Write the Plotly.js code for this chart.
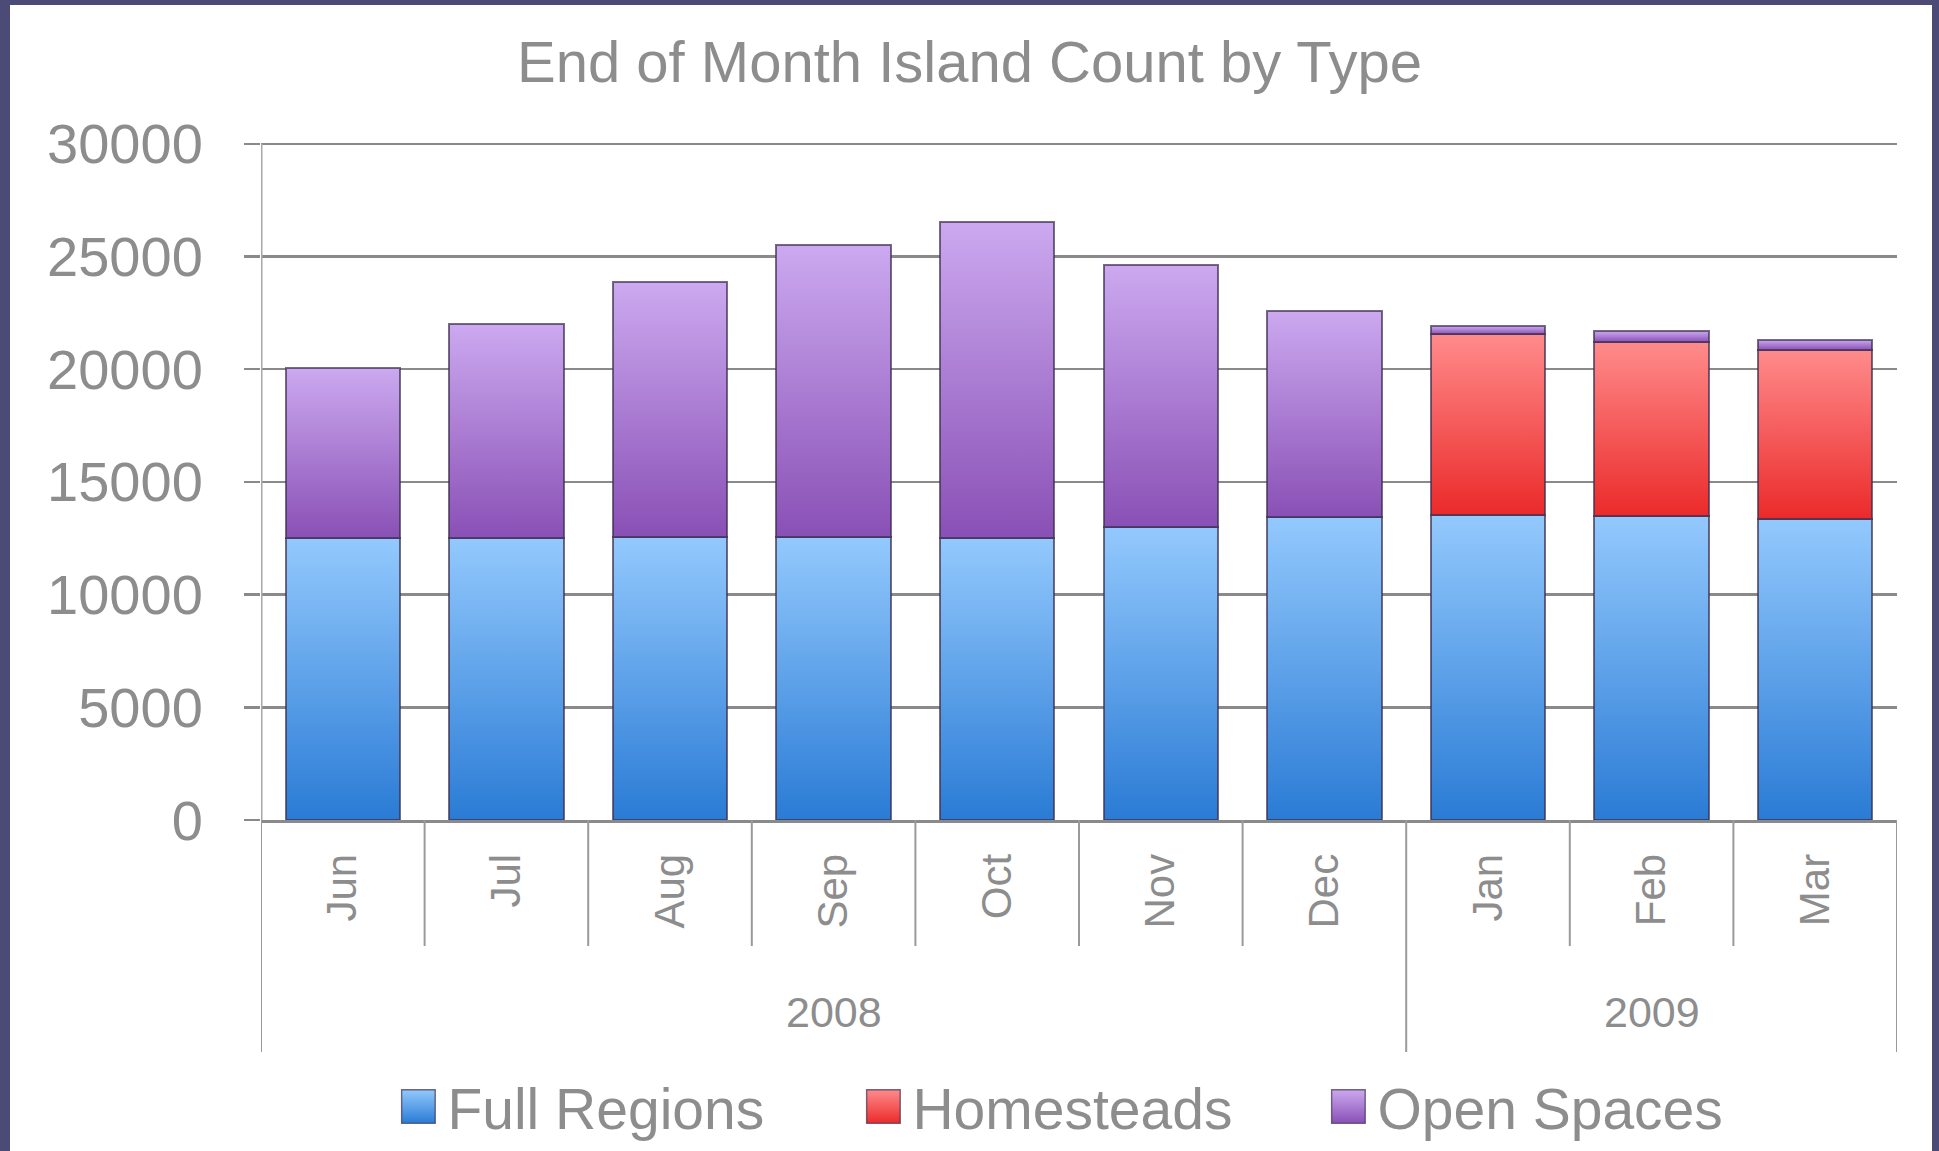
<!DOCTYPE html>
<html><head><meta charset="utf-8">
<script src="https://cdn.plot.ly/plotly-3.0.1.min.js"></script>
<style>
html,body{margin:0;padding:0;width:1939px;height:1151px;overflow:hidden;background:#4c4b77;}
#panel{position:absolute;left:10px;top:5px;width:1922px;height:1146px;background:#ffffff;}
#chart{position:absolute;left:0;top:0;width:1939px;height:1151px;}
</style></head><body>
<div id="panel"></div><div id="chart"></div>
<script>
const months = ['Jun','Jul','Aug','Sep','Oct','Nov','Dec','Jan','Feb','Mar'];
const years = ['2008','2008','2008','2008','2008','2008','2008','2009','2009','2009'];
const fullRegions = [12500, 12500, 12550, 12550, 12500, 13000, 13450, 13550, 13475, 13350];
const homesteads  = [null, null, null, null, null, null, null, 8000, 7725, 7500];
const openSpaces  = [7550, 9500, 11300, 12950, 14050, 11600, 9150, 350, 500, 450];
const seriesNames = ['Full Regions', 'Homesteads', 'Open Spaces'];
const seriesValues = [fullRegions, homesteads, openSpaces];
const yTicks = [0, 5000, 10000, 15000, 20000, 25000, 30000];
const titleText = 'End of Month Island Count by Type';

const gradStops = [['#93c9fd', '#2a7bd5'], ['#ff8b8b', '#eb2a2a'], ['#cca9f0', '#8950b5']];
const FONT = 'Liberation Sans, Arial, sans-serif';
const GRAY = '#8d8d8d';

const idx = months.map((m, i) => i);
const data = seriesNames.map((name, s) => ({
  type: 'bar', name: name, x: idx, y: seriesValues[s], width: 0.7,
  marker: {color: gradStops[s][1], line: {color: 'rgba(60,45,80,0.7)', width: 2}}
}));

// plot area: y=0 at 820px, y=30000 at 144px
const plotBottom = 820, yTopPx = 144, yMax = 30300;
const yTopTick = yTicks[yTicks.length - 1];
const pxPerUnit = (plotBottom - yTopPx) / yTopTick;
const marginTop = Math.round(plotBottom - yMax * pxPerUnit);
const plotH = plotBottom - marginTop;

const shapes = [];
const annotations = [];
const n = months.length;
// y axis line from 0 to top tick
shapes.push({type: 'line', xref: 'x', yref: 'y', x0: -0.5, x1: -0.5, y0: 0, y1: yTopTick,
  line: {color: '#a8a8a8', width: 3}});
// dividers under x axis
for (let i = 0; i <= n; i++) {
  const isYear = (i === 0 || i === n || years[i] !== years[i - 1]);
  shapes.push({type: 'line', xref: 'x', yref: 'paper', x0: i - 0.5, x1: i - 0.5, y0: 0,
    y1: -(isYear ? 232 : 126) / plotH, line: {color: '#9a9a9a', width: 2}});
}
const yearList = [...new Set(years)];
yearList.forEach(yr => {
  const ids = idx.filter(i => years[i] === yr);
  const mid = (ids[0] + ids[ids.length - 1]) / 2;
  annotations.push({text: yr, xref: 'x', yref: 'paper', x: mid, y: -192 / plotH, showarrow: false,
    xanchor: 'center', yanchor: 'middle', font: {family: FONT, size: 43, color: GRAY}});
});

const layout = {
  width: 1939, height: 1151,
  paper_bgcolor: 'rgba(0,0,0,0)', plot_bgcolor: 'rgba(0,0,0,0)',
  margin: {l: 261, r: 42, t: marginTop, b: 1151 - plotBottom, autoexpand: false},
  barmode: 'stack',
  title: {text: titleText, xref: 'container', x: 0.5, xanchor: 'center', yref: 'container', y: 0.9644, yanchor: 'top',
    font: {family: FONT, size: 58, color: GRAY}},
  xaxis: {type: 'linear', range: [-0.5, n - 0.5], tickmode: 'array', tickvals: idx, ticktext: months,
    tickangle: -90, ticks: '', showgrid: false, zeroline: false, showline: true, linecolor: '#8a8a8a', linewidth: 3,
    ticklabelstandoff: 14, tickfont: {family: FONT, size: 42, color: GRAY}},
  yaxis: {range: [0, yMax], tickmode: 'array', tickvals: yTicks, ticktext: yTicks.map(String),
    ticks: 'outside', ticklen: 16, tickwidth: 2.5, tickcolor: '#8a8a8a',
    showgrid: true, gridcolor: '#8a8a8a', gridwidth: 2.5, zeroline: false,
    showline: false,
    ticklabelstandoff: 30, tickfont: {family: FONT, size: 56, color: GRAY}},
  showlegend: true,
  legend: {orientation: 'h', traceorder: 'normal', x: 0.0895, xanchor: 'left', y: -287 / plotH, yanchor: 'middle',
    entrywidth: 420, entrywidthmode: 'pixels',
    font: {family: FONT, size: 57, color: GRAY}, bgcolor: 'rgba(0,0,0,0)'},
  shapes: shapes, annotations: annotations
};

Plotly.newPlot('chart', data, layout, {staticPlot: true}).then(gd => {
  const NS = 'http://www.w3.org/2000/svg';
  const svg = gd.querySelector('svg.main-svg');
  let defs = svg.querySelector('defs');
  if (!defs) { defs = document.createElementNS(NS, 'defs'); svg.insertBefore(defs, svg.firstChild); }
  gradStops.forEach((st, i) => {
    const lg = document.createElementNS(NS, 'linearGradient');
    lg.setAttribute('id', 'bargrad' + i);
    lg.setAttribute('x1', '0'); lg.setAttribute('y1', '0'); lg.setAttribute('x2', '0'); lg.setAttribute('y2', '1');
    [[0, st[0]], [1, st[1]]].forEach(([o, c]) => {
      const s = document.createElementNS(NS, 'stop');
      s.setAttribute('offset', o); s.setAttribute('stop-color', c);
      lg.appendChild(s);
    });
    defs.appendChild(lg);
  });
  gd.querySelectorAll('.barlayer .trace').forEach((tr, i) => {
    tr.querySelectorAll('path').forEach(p => { p.style.fill = 'url(#bargrad' + i + ')'; });
  });
  gd.querySelectorAll('.legend, .legend *').forEach(el => { el.removeAttribute('clip-path'); });
  gd.querySelectorAll('.legend .traces').forEach(tr => {
    const t = tr.querySelector('.legendtext');
    const i = seriesNames.indexOf(t ? t.textContent : '');
    tr.querySelectorAll('.legendpoints path').forEach(p => {
      p.setAttribute('transform', 'translate(11,0) scale(2.8)');
      p.style.strokeWidth = '0.5px';
      if (i >= 0) p.style.fill = 'url(#bargrad' + i + ')';
    });
  });
});
</script>
</body></html>
